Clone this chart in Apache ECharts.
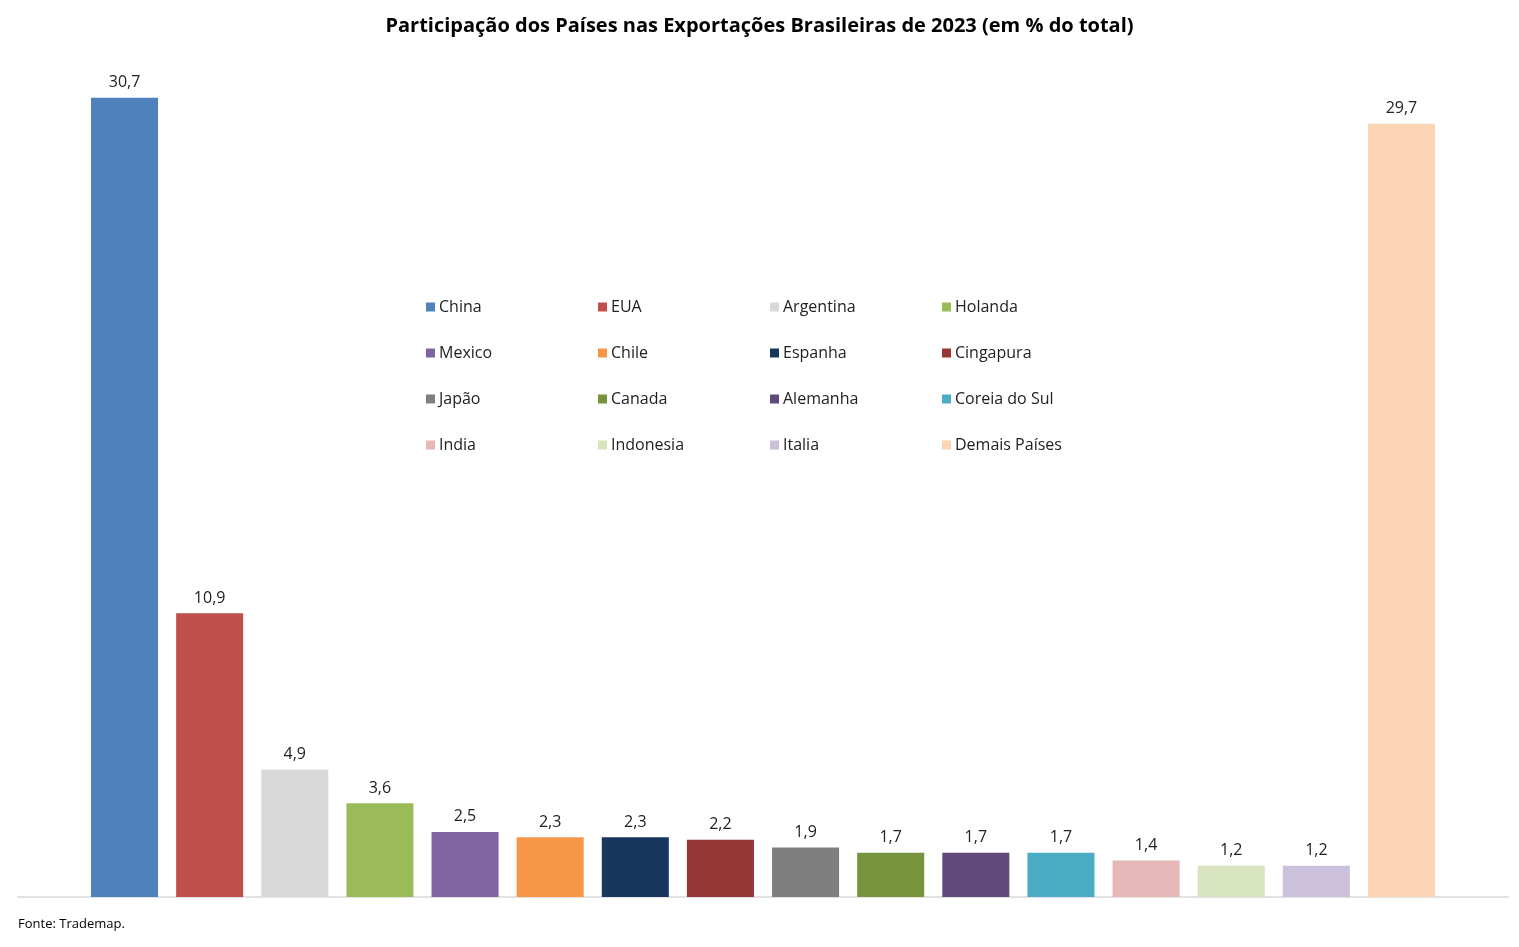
<!DOCTYPE html>
<html>
<head>
<meta charset="utf-8">
<title>Exportações Brasileiras 2023</title>
<script src="https://cdn.jsdelivr.net/npm/echarts@6/dist/echarts.min.js"></script>
<style>
    html, body { margin: 0; padding: 0; background: #fff; }
    #chart { width: 1519px; height: 947px; }
</style>
</head>
<body>
<div id="chart"></div>
<script>
// dados
const paises = ['China', 'EUA', 'Argentina', 'Holanda', 'Mexico', 'Chile', 'Espanha', 'Cingapura',
    'Japão', 'Canada', 'Alemanha', 'Coreia do Sul', 'India', 'Indonesia', 'Italia', 'Demais Países']
const valores = [30.7, 10.9, 4.9, 3.6, 2.5, 2.3, 2.3, 2.2, 1.9, 1.7, 1.7, 1.7, 1.4, 1.2, 1.2, 29.7]
const cores = ['#4f81bd', '#c0504d', '#d9d9d9', '#9bbb59', '#8064a2', '#f79646', '#17375e', '#953735',
    '#7f7f7f', '#77933c', '#604a7b', '#4bacc6', '#e6b9b8', '#d7e4bd', '#ccc1da', '#fcd5b5']

const fonte = "'Open Sans', 'Noto Sans', sans-serif"

// uma série por país, todas na mesma categoria
const series = paises.map((nome, i) => ({
    name: nome,
    type: 'bar',
    data: [valores[i]],
    itemStyle: { color: cores[i] },
    barGap: '27%',
    barCategoryGap: '9.8%',
    label: {
        show: true,
        position: 'top',
        distance: 7,
        color: '#222',
        fontSize: 16,
        fontFamily: fonte,
        formatter: p => String(p.value).replace('.', ','),
    },
}))

// legenda em 4 colunas
const colunasX = [421, 593, 765, 937]
const legend = colunasX.map((x, c) => ({
    orient: 'vertical',
    left: x,
    top: 294,
    itemWidth: 9,
    itemHeight: 9,
    itemGap: 30,
    icon: 'rect',
    textStyle: { fontSize: 16, color: '#222', fontFamily: fonte, padding: [0, 0, 0, -1] },
    data: [paises[c], paises[c + 4], paises[c + 8], paises[c + 12]],
    selectedMode: false,
}))

const option = {
    animation: false,
    title: {
        text: 'Participação dos Países nas Exportações Brasileiras de 2023 (em % do total)',
        left: 'center',
        top: 11,
        textStyle: { fontSize: 20, fontWeight: 'bold', color: '#000', fontFamily: fonte },
    },
    legend: legend,
    grid: { left: 18, right: 11, top: 64, bottom: 50 },
    xAxis: {
        type: 'category',
        data: [''],
        axisLine: { lineStyle: { color: '#d9d9d9', width: 1.5 } },
        axisTick: { show: false },
        axisLabel: { show: false },
    },
    yAxis: {
        type: 'value',
        min: 0,
        max: 32,
        show: false,
        splitLine: { show: false },
    },
    graphic: [{
        type: 'text',
        left: 18,
        top: 918,
        style: { text: 'Fonte: Trademap.', fontSize: 13, fill: '#000', fontFamily: fonte },
    }],
    series: series,
}

const mychart = echarts.init(document.getElementById('chart'))
mychart.setOption(option)
window.addEventListener('resize', () => mychart.resize())
</script>
</body>
</html>
